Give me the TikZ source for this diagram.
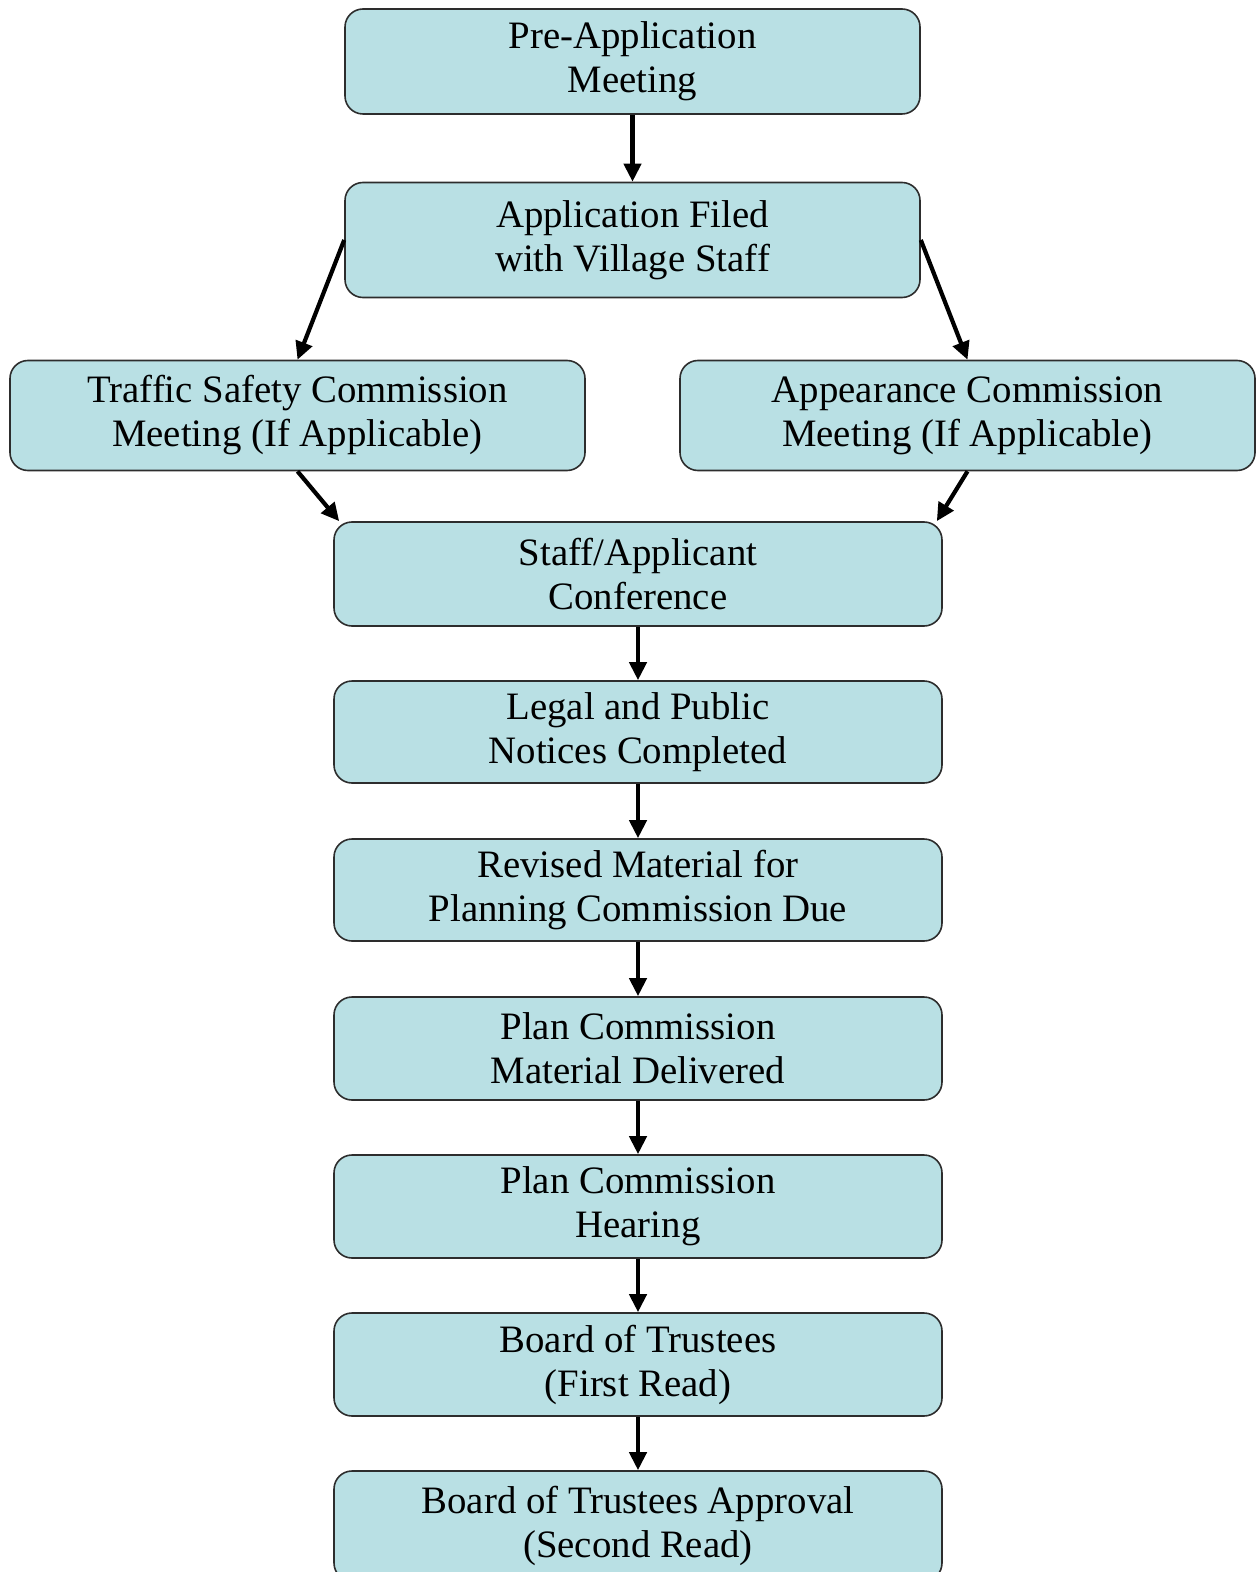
\documentclass[tikz,border=0pt]{standalone}
\usepackage{fontspec}
\setmainfont{Liberation Serif}
\usetikzlibrary{arrows.meta}
\definecolor{boxfill}{RGB}{185,224,228}
\definecolor{boxline}{RGB}{45,45,45}
\begin{document}
\begin{tikzpicture}[x=0.5pt, y=-0.5pt,
		stage/.style={draw=boxline, line width=0.8pt, fill=boxfill, rounded corners=9pt,
			minimum width=287.5pt, inner sep=0pt, align=center,
			font=\fontsize{19.4}{22}\selectfont},
		wide/.style={stage, minimum width=304pt},
		flow/.style={-{Triangle[length=9pt,width=8.5pt]}, line width=2.1pt}]
		\clip (0,0) rectangle (1259,1572);
		\useasboundingbox (0,0) rectangle (1259,1572);

		% top of the process
		\node[stage, minimum height=52.5pt] (preapp) at (632.5,61.5) {Pre-Application\\Meeting};
		\node[stage, minimum height=57.5pt] (filed) at (632.5,240) {Application Filed\\with Village Staff};

		% optional commission meetings
		\node[stage, minimum height=55pt] (traffic) at (297.5,415.5) {Traffic Safety Commission\\Meeting (If Applicable)};
		\node[stage, minimum height=55pt] (appear) at (967.5,415.5) {Appearance Commission\\Meeting (If Applicable)};

		% main column
		\node[wide, minimum height=52pt] (conf) at (638,574) {Staff/Applicant\\Conference};
		\node[wide, minimum height=51pt] (notices) at (638,732) {Legal and Public\\Notices Completed};
		\node[wide, minimum height=51pt] (revised) at (638,890) {Revised Material for\\Planning Commission Due};
		\node[wide, minimum height=51.5pt] (delivered) at (638,1048.5) {Plan Commission\\Material Delivered};
		\node[wide, minimum height=51.5pt] (hearing) at (638,1206.5) {Plan Commission\\Hearing};
		\node[wide, minimum height=51.5pt] (first) at (638,1364.5) {Board of Trustees\\(First Read)};
		\node[wide, minimum height=55pt] (second) at (638,1526) {Board of Trustees Approval\\(Second Read)};

		\draw[flow] (preapp) -- (filed);
		\draw[flow] (filed.west) -- (traffic.north);
		\draw[flow] (filed.east) -- (appear.north);
		\draw[flow] (traffic.south) -- ([xshift=3pt]conf.north west);
		\draw[flow] (appear.south) -- ([xshift=-3pt]conf.north east);
		\draw[flow] (conf) -- (notices);
		\draw[flow] (notices) -- (revised);
		\draw[flow] (revised) -- (delivered);
		\draw[flow] (delivered) -- (hearing);
		\draw[flow] (hearing) -- (first);
		\draw[flow] (first) -- (second);
	\end{tikzpicture}
\end{document}
